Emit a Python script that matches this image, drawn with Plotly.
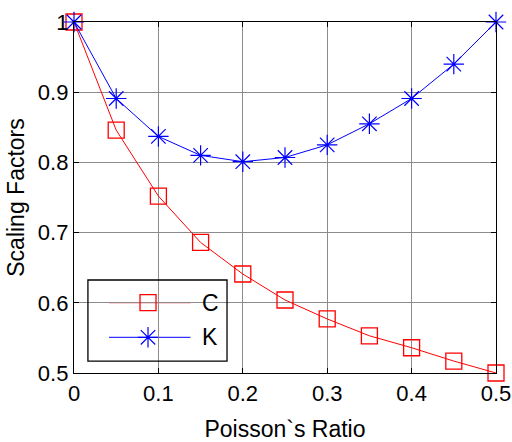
import plotly.graph_objects as go

nu = [0, 0.05, 0.1, 0.15, 0.2, 0.25, 0.3, 0.35, 0.4, 0.45, 0.5]
C = [1.0, 0.846, 0.752, 0.686, 0.641, 0.604, 0.577, 0.553, 0.536, 0.517, 0.5]
K = [1.0, 0.891, 0.837, 0.810, 0.801, 0.807, 0.825, 0.855, 0.891, 0.940, 1.0]
series_names = ["C", "K"]

FONT = "Liberation Sans, Arial, sans-serif"
RED = "#ff0000"
BLUE = "#0000ff"

c_marker = dict(symbol="square-open", size=16, color=RED, line=dict(color=RED, width=1.3))
k_marker = dict(symbol="asterisk-open", size=17, color=BLUE, line=dict(color=BLUE, width=1.2))

fig = go.Figure()
fig.add_trace(go.Scatter(x=nu, y=C, name="C", mode="lines+markers", cliponaxis=False,
                         showlegend=False, line=dict(color=RED, width=1), marker=c_marker))
fig.add_trace(go.Scatter(x=nu, y=K, name="K", mode="lines+markers", cliponaxis=False,
                         showlegend=False, line=dict(color=BLUE, width=1), marker=k_marker))

# ---- MATLAB-style legend box (paper coordinates of the plot area) ----
lg_x0, lg_x1, lg_y0, lg_y1 = 0.033, 0.3626, 0.034, 0.265
row_y = [0.2003, 0.1017]
line_x0, line_x1, mark_x, text_x = 0.083, 0.276, 0.1754, 0.298
fig.add_shape(type="rect", xref="paper", yref="paper", x0=lg_x0, x1=lg_x1, y0=lg_y0, y1=lg_y1,
              line=dict(width=0), fillcolor="white", layer="between")
fig.add_shape(type="rect", xref="paper", yref="paper", x0=lg_x0, x1=lg_x1, y0=lg_y0, y1=lg_y1,
              line=dict(color="black", width=1.3), fillcolor="rgba(0,0,0,0)", layer="above")
for ry, col in zip(row_y, [RED, BLUE]):
    fig.add_shape(type="line", xref="paper", yref="paper", x0=line_x0, x1=line_x1, y0=ry, y1=ry,
                  line=dict(color=col, width=1), layer="between")
fig.add_trace(go.Scatter(x=[mark_x], y=[row_y[0]], xaxis="x2", yaxis="y2", mode="markers",
                         marker=c_marker, showlegend=False, cliponaxis=False, hoverinfo="skip"))
fig.add_trace(go.Scatter(x=[mark_x], y=[row_y[1]], xaxis="x2", yaxis="y2", mode="markers",
                         marker=k_marker, showlegend=False, cliponaxis=False, hoverinfo="skip"))
for ry, nm in zip(row_y, series_names):
    fig.add_annotation(xref="paper", yref="paper", x=text_x, y=ry, text=nm, showarrow=False,
                       xanchor="left", yanchor="middle", font=dict(family=FONT, size=23, color="black"))

axis_common = dict(
    showline=True, linecolor="black", linewidth=1.3, mirror="ticks",
    ticks="inside", ticklen=5, tickcolor="black", tickwidth=1,
    showgrid=True, gridcolor="#8c8c8c", gridwidth=1, zeroline=False,
    tickfont=dict(family=FONT, size=22, color="black"), automargin=False,
)

fig.update_xaxes(range=[0, 0.5], dtick=0.1, tick0=0,
                 title=dict(text="Poisson`s Ratio", font=dict(family=FONT, size=23, color="black"), standoff=24),
                 **axis_common)
fig.update_yaxes(range=[0.5, 1], dtick=0.1, tick0=0.5,
                 title=dict(text="Scaling Factors", font=dict(family=FONT, size=23, color="black"), standoff=6),
                 **axis_common)

fig.update_layout(
    width=512, height=442,
    margin=dict(l=74, r=16, t=22, b=69),
    paper_bgcolor="white", plot_bgcolor="white",
    showlegend=False,
    xaxis2=dict(overlaying="x", range=[0, 1], visible=False),
    yaxis2=dict(overlaying="y", range=[0, 1], visible=False),
)

fig.write_html("out.html")
